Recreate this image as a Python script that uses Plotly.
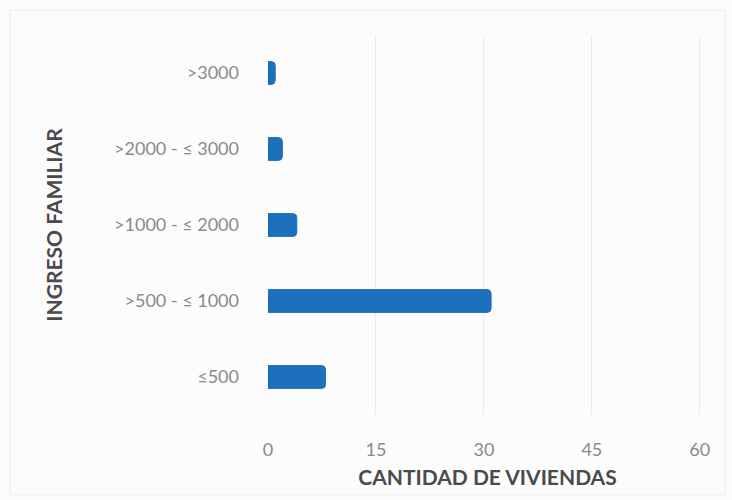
import plotly.graph_objects as go

categories = ["≤500", ">500 - ≤ 1000", ">1000 - ≤ 2000", ">2000 - ≤ 3000", ">3000"]
viviendas = [8, 31, 4, 2, 1]
x_ticks = [0, 15, 30, 45, 60]

fig = go.Figure(
    go.Bar(
        y=categories,
        x=viviendas,
        orientation="h",
        marker=dict(color="#1d70bb", line=dict(color="#1d70bb", width=1), cornerradius=4),
        width=0.3,
    )
)

fig.update_layout(
    width=732,
    height=500,
    margin=dict(l=268, r=25, t=35, b=85),
    paper_bgcolor="#fcfcfc",
    plot_bgcolor="#fcfcfc",
    font=dict(family="Lato, Open Sans, sans-serif", color="#7f7f7f", size=18),
    showlegend=False,
    xaxis=dict(
        range=[0, 61],
        tickvals=x_ticks,
        ticktext=[str(v) for v in x_ticks],
        showgrid=True,
        gridcolor="#ececec",
        gridwidth=1,
        zeroline=False,
        showline=False,
        ticks="",
        ticklen=0,
        ticklabelstandoff=22,
        tickfont=dict(size=18, color="#8a8a8a"),
        title=dict(
            text="<b>CANTIDAD DE VIVIENDAS</b>",
            font=dict(size=21, color="#4a4a4a"),
            standoff=11,
        ),
    ),
    yaxis=dict(
        categoryorder="array",
        categoryarray=categories,
        range=[-0.5, 4.5],
        showgrid=False,
        zeroline=False,
        showline=False,
        ticks="",
        ticklabelstandoff=28,
        tickfont=dict(size=18, color="#8a8a8a"),
        title=dict(
            text="<b>INGRESO FAMILIAR</b>",
            font=dict(size=21, color="#4a4a4a"),
            standoff=45,
        ),
    ),
    shapes=[
        dict(
            type="rect", xref="paper", yref="paper",
            x0=-0.588, x1=1.041, y0=-0.21, y1=1.066,
            line=dict(color="#ececec", width=1),
        )
    ],
)

fig.write_html("out.html")
